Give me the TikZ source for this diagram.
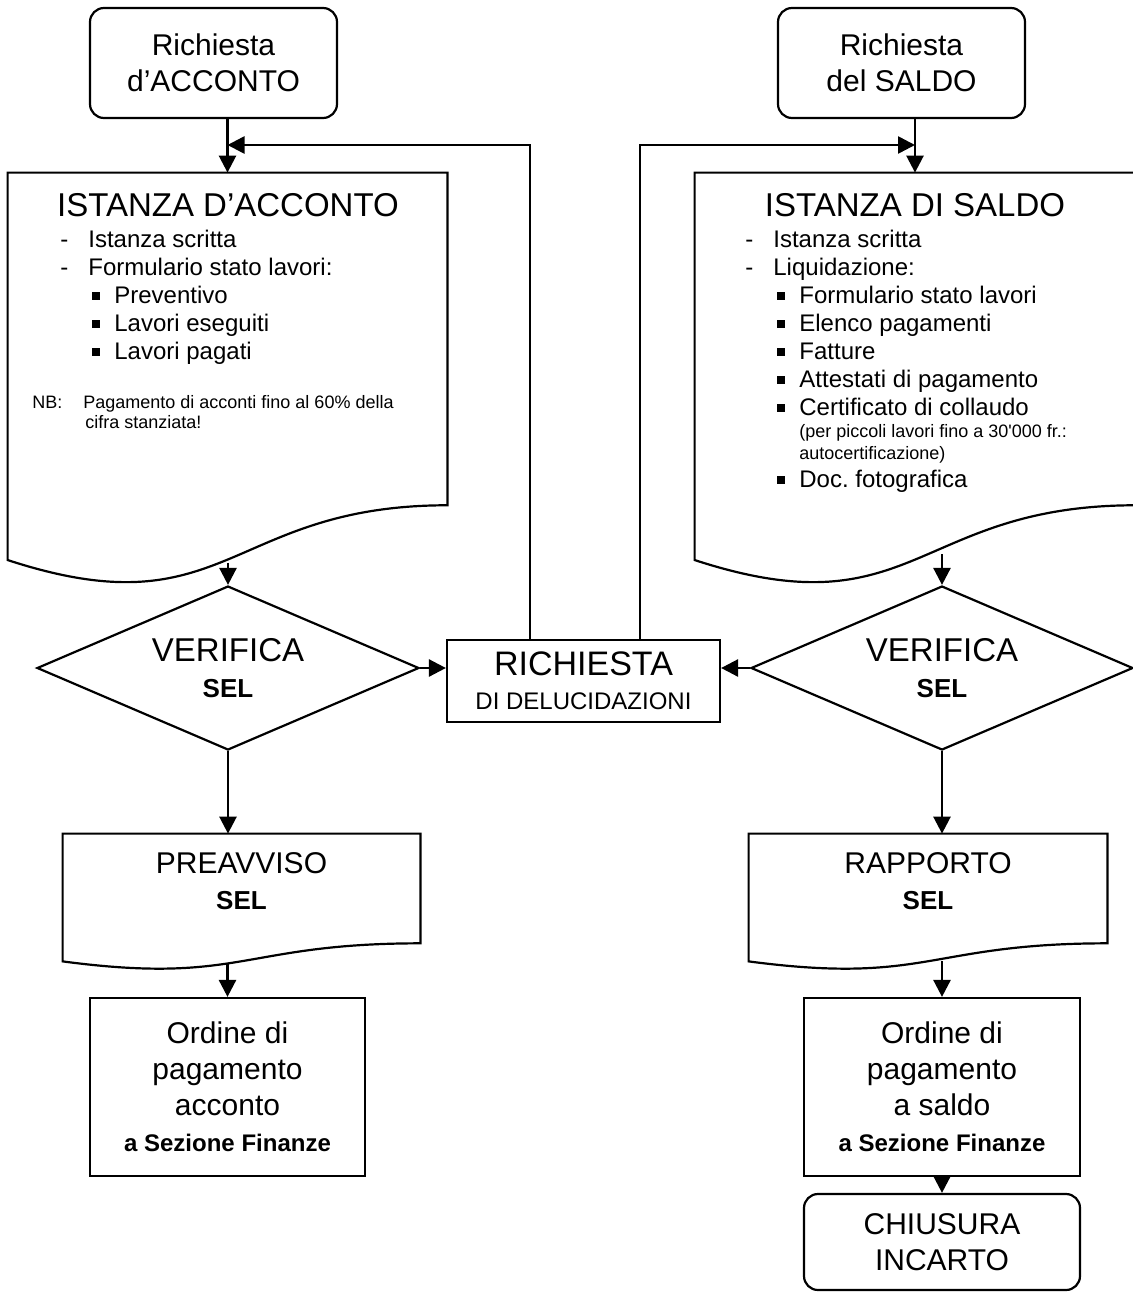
\documentclass[tikz,border=0pt]{standalone}
\usepackage{fontspec}
\setmainfont{Liberation Sans}
\usetikzlibrary{arrows.meta,shapes.geometric,calc}

\newcommand{\mainsize}{\fontsize{15}{18}\selectfont}
\newcommand{\headsize}{\fontsize{16.5}{18}\selectfont}
\newcommand{\bodysize}{\fontsize{12}{14}\selectfont}
\newcommand{\notesize}{\fontsize{9}{10}\selectfont}
\newcommand{\selsize}{\fontsize{13}{15}\selectfont\bfseries}

\newcommand{\dashitem}[1]{\makebox[14pt][l]{-}#1\par}
\newcommand{\squareitem}[1]{\hspace*{16pt}\makebox[11pt][l]{\rule[1.6pt]{3.7pt}{3.7pt}}#1\par}

% wavy bottom of a document node
\newcommand{\docoutline}[1]{%
\draw[outline] (#1.north west) -- (#1.north east)
  -- ($(#1.north east)!0.802!(#1.south east)$)
  .. controls ($(#1.north)!0.802!(#1.south)$) and ($(#1.north)!1.1075!(#1.south)$)
  .. ($(#1.north west)!0.934!(#1.south west)$) -- cycle;}

\begin{document}
\begin{tikzpicture}[x=0.5pt,y=-0.5pt,
  every node/.style={inner sep=0pt},
  outline/.style={line width=1.1pt},
  arr/.style={-{Triangle[length=8.5pt,width=8.5pt]},line width=1.3pt},
  startbox/.style={draw,outline,rounded corners=7pt,align=center,font=\mainsize},
  procbox/.style={draw,outline,align=center,font=\mainsize},
  docbox/.style={minimum height=207pt},
  decision/.style={draw,outline,diamond,aspect=2.33,minimum width=191pt,minimum height=82pt,align=center,font=\headsize}]

\useasboundingbox (0,0) rectangle (1132,1296);

% requests
\node[startbox,minimum width=123.5pt,minimum height=55pt] (reqA) at (213.5,63) {Richiesta\\d’ACCONTO};
\node[startbox,minimum width=123.5pt,minimum height=55pt] (reqB) at (901.5,63) {Richiesta\\del SALDO};

% documents
\node[docbox,minimum width=219.5pt] (istA) at (227.5,380) {};
\node[docbox,minimum width=220pt] (istB) at (915,380) {};
\docoutline{istA}
\docoutline{istB}

\node[font=\headsize] (istAtitle) at (228,205) {ISTANZA D’ACCONTO};
\node[font=\headsize] (istBtitle) at (915,205) {ISTANZA DI SALDO};

\node[anchor=base west] (istAlist) at (60,247) {\parbox[t]{190pt}{\bodysize
\dashitem{Istanza scritta}
\dashitem{Formulario stato lavori:}
\squareitem{Preventivo}
\squareitem{Lavori eseguiti}
\squareitem{Lavori pagati}}};

\node[anchor=base west] (istAnote) at (32,408) {\parbox[t]{200pt}{\notesize
\makebox[25.5pt][l]{NB:}Pagamento di acconti fino al 60\% della\par
\hspace*{26.5pt}cifra stanziata!\par}};

\node[anchor=base west] (istBlist) at (745,247) {\parbox[t]{190pt}{\bodysize
\dashitem{Istanza scritta}
\dashitem{Liquidazione:}
\squareitem{Formulario stato lavori}
\squareitem{Elenco pagamenti}
\squareitem{Fatture}
\squareitem{Attestati di pagamento}
\squareitem{Certificato di collaudo}
{\fontsize{9}{11}\selectfont\hspace*{27pt}(per piccoli lavori fino a 30\textquotesingle 000 fr.:\par
\hspace*{27pt}autocertificazione)\par}
\squareitem{Doc.\ fotografica}}};

% checks
\node[decision] (verA) at (228,668) {VERIFICA\\{\selsize SEL}};
\node[decision] (verB) at (942,668) {VERIFICA\\{\selsize SEL}};

\node[procbox,minimum width=136.5pt,minimum height=41pt,font=\fontsize{17}{17}\selectfont] (clar) at (583.5,681) {RICHIESTA\\{\bodysize DI DELUCIDAZIONI}};

% notices
\node[minimum width=178.5pt,minimum height=68pt] (preA) at (241.5,902) {};
\node[minimum width=179pt,minimum height=68pt] (repB) at (928,902) {};
\docoutline{preA}
\docoutline{repB}
\node[align=center,font=\mainsize] (preAtext) at (241.5,881) {PREAVVISO\\{\selsize SEL}};
\node[align=center,font=\mainsize] (repBtext) at (928,881) {RAPPORTO\\{\selsize SEL}};

% orders
\node[procbox,minimum width=137.5pt,minimum height=89pt] (ordA) at (227.5,1087) {Ordine di\\pagamento\\acconto\\{\fontsize{12}{14}\selectfont\bfseries a Sezione Finanze}};
\node[procbox,minimum width=138pt,minimum height=89pt] (ordB) at (942,1087) {Ordine di\\pagamento\\a saldo\\{\fontsize{12}{14}\selectfont\bfseries a Sezione Finanze}};
\node[startbox,minimum width=138pt,minimum height=48pt] (close) at (942,1242) {CHIUSURA\\INCARTO};

\coordinate (backA) at (530,145);
\coordinate (backB) at (640,145);
\coordinate (istAout) at ($(istA.north)!0.94!(istA.south)$);
\coordinate (istBout) at ($(istB.north)!0.92!(istB.south)$);
\coordinate (preAout) at ($(preA.north)!0.95!(preA.south)$);
\coordinate (repBout) at ($(repB.north)!0.93!(repB.south)$);

\draw[arr] (istA.north |- reqA.south) -- (istA.north);
\draw[arr] (istB.north |- reqB.south) -- (istB.north);
\draw[arr] (backA |- clar.north) -- (backA) -- (backA -| istA.north);
\draw[arr] (backB |- clar.north) -- (backB) -- (backB -| istB.north);
\draw[arr] (verA.north |- istAout) -- (verA.north);
\draw[arr] (verB.north |- istBout) -- (verB.north);
\draw[arr] (verA.east) -- (clar.west |- verA.east);
\draw[arr] (verB.west) -- (clar.east |- verB.west);
\draw[arr] (verA.south) -- (verA.south |- preA.north);
\draw[arr] (verB.south) -- (verB.south |- repB.north);
\draw[arr] (ordA.north |- preAout) -- (ordA.north);
\draw[arr] (ordB.north |- repBout) -- (ordB.north);
\draw[arr] (ordB.south) -- (close.north);
\end{tikzpicture}
\end{document}
